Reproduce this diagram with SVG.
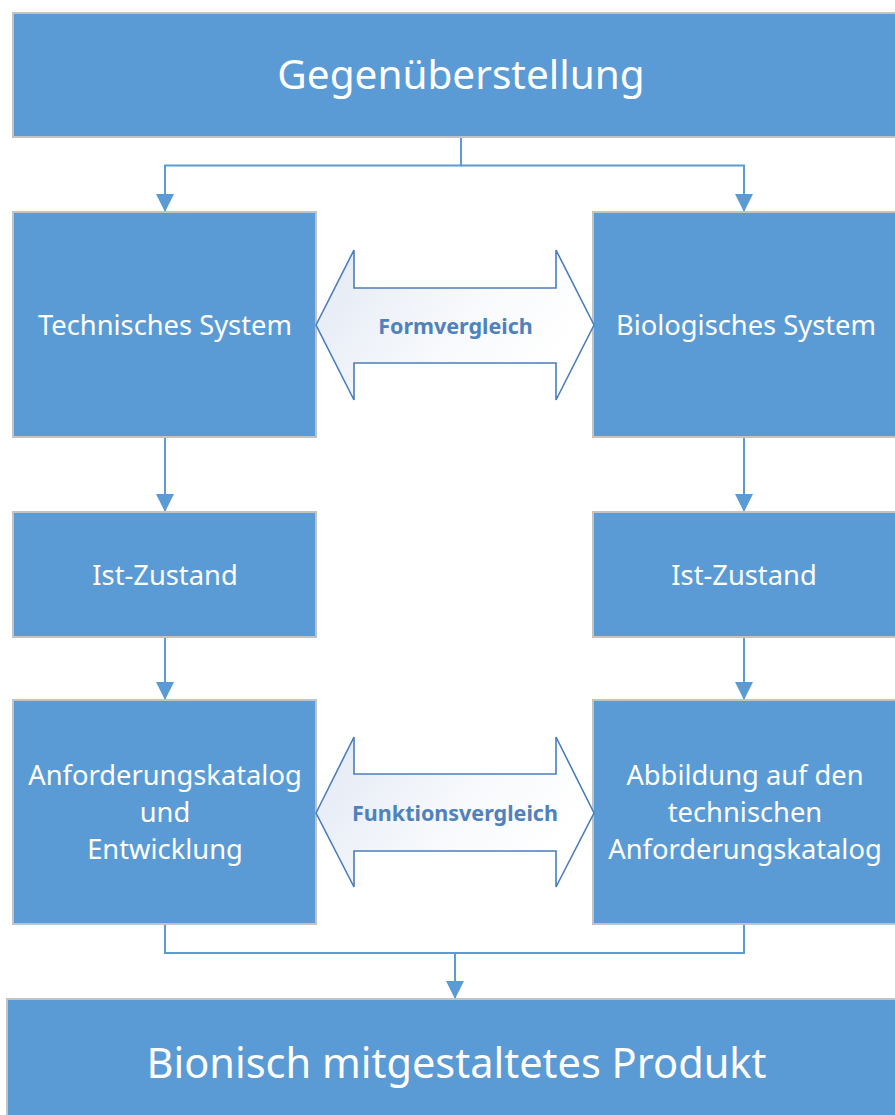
<svg xmlns="http://www.w3.org/2000/svg" width="895" height="1115" viewBox="0 0 895 1115">
  <style>
    .box { fill: #5b9bd5; stroke: #c3c3c3; stroke-width: 2; }
    .t { font-family: "Noto Sans", "Liberation Sans", sans-serif; fill: #ffffff; text-anchor: middle; }
    .big { font-size: 40.5px; }
    .bottom { font-size: 41.5px; }
    .mid { font-size: 27.3px; }
    .conn { fill: none; stroke: #5b9bd5; stroke-width: 2; }
    .cmp { fill: url(#cmpFill); stroke: #4a7ebb; stroke-width: 1.6; stroke-linejoin: miter; }
    .cmpText { font-family: "Noto Sans", "Liberation Sans", sans-serif; font-weight: bold; font-size: 21.5px; fill: #4f81bd; text-anchor: middle; }
  </style>
  <defs>
    <marker id="arrow" markerUnits="userSpaceOnUse" markerWidth="18" markerHeight="18" viewBox="0 0 18 18" refX="18" refY="9" orient="auto">
      <path d="M0,0 L18,9 L0,18 z" fill="#5b9bd5"/>
    </marker>
    <linearGradient id="cmpFill" x1="0" y1="0" x2="1" y2="0.4">
      <stop offset="0" stop-color="#e2e8f4"/>
      <stop offset="0.6" stop-color="#f7f9fc"/>
      <stop offset="1" stop-color="#ffffff"/>
    </linearGradient>
  </defs>

  <rect width="895" height="1115" fill="#ffffff"/>

  <!-- connectors -->
  <g id="connectors">
    <path class="conn" d="M461,137 V165.5 H165 V212" marker-end="url(#arrow)"/>
    <path class="conn" d="M461,165.5 H744 V212" marker-end="url(#arrow)"/>
    <path class="conn" d="M165,437 V512" marker-end="url(#arrow)"/>
    <path class="conn" d="M744,437 V512" marker-end="url(#arrow)"/>
    <path class="conn" d="M165,637 V700" marker-end="url(#arrow)"/>
    <path class="conn" d="M744,637 V700" marker-end="url(#arrow)"/>
    <path class="conn" d="M165,924 V953 H744 V924"/>
    <path class="conn" d="M455,953 V999" marker-end="url(#arrow)"/>
  </g>

  <g id="gegenueberstellung">
    <rect class="box" x="13" y="13" width="896" height="124"/>
    <text class="t big" x="461" y="89">Gegenüberstellung</text>
  </g>

  <g id="technisches-system">
    <rect class="box" x="13" y="212" width="303" height="225"/>
    <text class="t mid" x="165" y="335">Technisches System</text>
  </g>

  <g id="biologisches-system">
    <rect class="box" x="593" y="212" width="304" height="225"/>
    <text class="t mid" x="746" y="335">Biologisches System</text>
  </g>

  <g id="formvergleich">
    <polygon class="cmp" points="316,325 354,250 354,288 556,288 556,250 594,325 556,400 556,363 354,363 354,400"/>
    <text class="cmpText" x="455.5" y="334">Formvergleich</text>
  </g>

  <g id="ist-zustand-tech">
    <rect class="box" x="13" y="512" width="303" height="125"/>
    <text class="t mid" x="165" y="585">Ist-Zustand</text>
  </g>

  <g id="ist-zustand-bio">
    <rect class="box" x="593" y="512" width="304" height="125"/>
    <text class="t mid" x="744" y="585">Ist-Zustand</text>
  </g>

  <g id="anforderungskatalog">
    <rect class="box" x="13" y="700" width="303" height="224"/>
    <text class="t mid" x="165" y="785">Anforderungskatalog</text>
    <text class="t mid" x="165" y="822">und</text>
    <text class="t mid" x="165" y="859">Entwicklung</text>
  </g>

  <g id="abbildung">
    <rect class="box" x="593" y="700" width="304" height="224"/>
    <text class="t mid" x="745" y="785">Abbildung auf den</text>
    <text class="t mid" x="745" y="822">technischen</text>
    <text class="t mid" x="745" y="859">Anforderungskatalog</text>
  </g>

  <g id="funktionsvergleich">
    <polygon class="cmp" points="316,813 354,737 354,774 556,774 556,737 594,813 556,887 556,851 354,851 354,887"/>
    <text class="cmpText" x="455" y="821">Funktionsvergleich</text>
  </g>

  <g id="bionisches-produkt">
    <rect class="box" x="7" y="999" width="900" height="130"/>
    <text class="t bottom" x="456.5" y="1078">Bionisch mitgestaltetes Produkt</text>
  </g>
</svg>
